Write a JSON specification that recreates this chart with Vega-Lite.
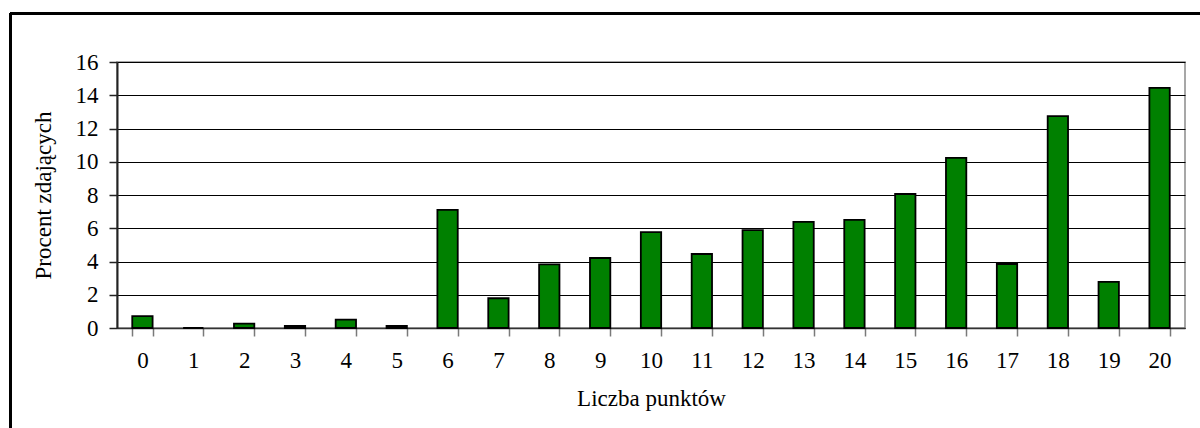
{
  "$schema": "https://vega.github.io/schema/vega-lite/v6.json",
  "autosize": {"type": "none"},
  "padding": {"left": 117, "top": 62, "right": 15, "bottom": 100},
  "width": 1068,
  "height": 266,
  "background": "white",
  "config": {
    "font": "Liberation Serif",
    "view": {"stroke": "#8a8a8a", "strokeWidth": 1.5}
  },
  "data": {
    "values": [
      {"punkty": 0, "procent": 0.72},
      {"punkty": 1, "procent": 0},
      {"punkty": 2, "procent": 0.26},
      {"punkty": 3, "procent": 0.12},
      {"punkty": 4, "procent": 0.5},
      {"punkty": 5, "procent": 0.12},
      {"punkty": 6, "procent": 7.1},
      {"punkty": 7, "procent": 1.79},
      {"punkty": 8, "procent": 3.83},
      {"punkty": 9, "procent": 4.21},
      {"punkty": 10, "procent": 5.77},
      {"punkty": 11, "procent": 4.45},
      {"punkty": 12, "procent": 5.89},
      {"punkty": 13, "procent": 6.38},
      {"punkty": 14, "procent": 6.5},
      {"punkty": 15, "procent": 8.06},
      {"punkty": 16, "procent": 10.23},
      {"punkty": 17, "procent": 3.85},
      {"punkty": 18, "procent": 12.75},
      {"punkty": 19, "procent": 2.77},
      {"punkty": 20, "procent": 14.44}
    ]
  },
  "resolve": {"scale": {"x": "independent", "y": "independent"}, "axis": {"x": "independent", "y": "independent"}},
  "layer": [
    {
      "mark": {"type": "bar", "fill": "#008000", "stroke": "#000000", "strokeWidth": 1.8},
      "encoding": {
        "x": {
          "field": "punkty",
          "type": "ordinal",
          "scale": {"paddingInner": 0.6, "paddingOuter": 0.3},
          "axis": {
            "title": "Liczba punktów",
            "titleFontSize": 23,
            "titleFontWeight": "normal",
            "titleColor": "#000000",
            "titlePadding": 15,
            "labelAngle": 0,
            "labelFontSize": 23,
            "labelColor": "#000000",
            "labelPadding": 13,
            "tickBand": "extent",
            "tickSize": 8,
            "tickColor": "#7a7a7a",
            "tickWidth": 1.5,
            "domainColor": "#333333",
            "domainWidth": 1.5,
            "grid": false
          }
        },
        "y": {
          "field": "procent",
          "type": "quantitative",
          "scale": {"domain": [0, 16], "nice": false},
          "axis": {
            "title": "Procent zdających",
            "titleFontSize": 23,
            "titleFontWeight": "normal",
            "titleColor": "#000000",
            "titlePadding": 20,
            "values": [0, 2, 4, 6, 8, 10, 12, 14, 16],
            "labelOverlap": false,
            "labelFontSize": 23,
            "labelColor": "#000000",
            "labelPadding": 11,
            "tickSize": 8,
            "tickColor": "#222222",
            "tickWidth": 1.5,
            "domainColor": "#222222",
            "domainWidth": 2,
            "grid": true,
            "gridColor": "#000000",
            "gridWidth": 1,
            "gridOpacity": 1
          }
        }
      }
    },
    {
      "mark": {"type": "rule", "color": "#000000", "strokeWidth": 2.5},
      "encoding": {
        "x": {"datum": -0.0997, "type": "quantitative", "scale": {"domain": [0, 1], "nice": false, "zero": false}, "axis": null},
        "y": {"datum": 18.92, "type": "quantitative", "scale": {"domain": [0, 16], "nice": false}, "axis": null},
        "y2": {"datum": -8}
      }
    },
    {
      "mark": {"type": "rule", "color": "#000000", "strokeWidth": 2},
      "encoding": {
        "x": {"datum": -0.0997, "type": "quantitative", "scale": {"domain": [0, 1], "nice": false, "zero": false}, "axis": null},
        "x2": {"datum": 1.2},
        "y": {"datum": 18.92, "type": "quantitative", "scale": {"domain": [0, 16], "nice": false}, "axis": null}
      }
    }
  ]
}
